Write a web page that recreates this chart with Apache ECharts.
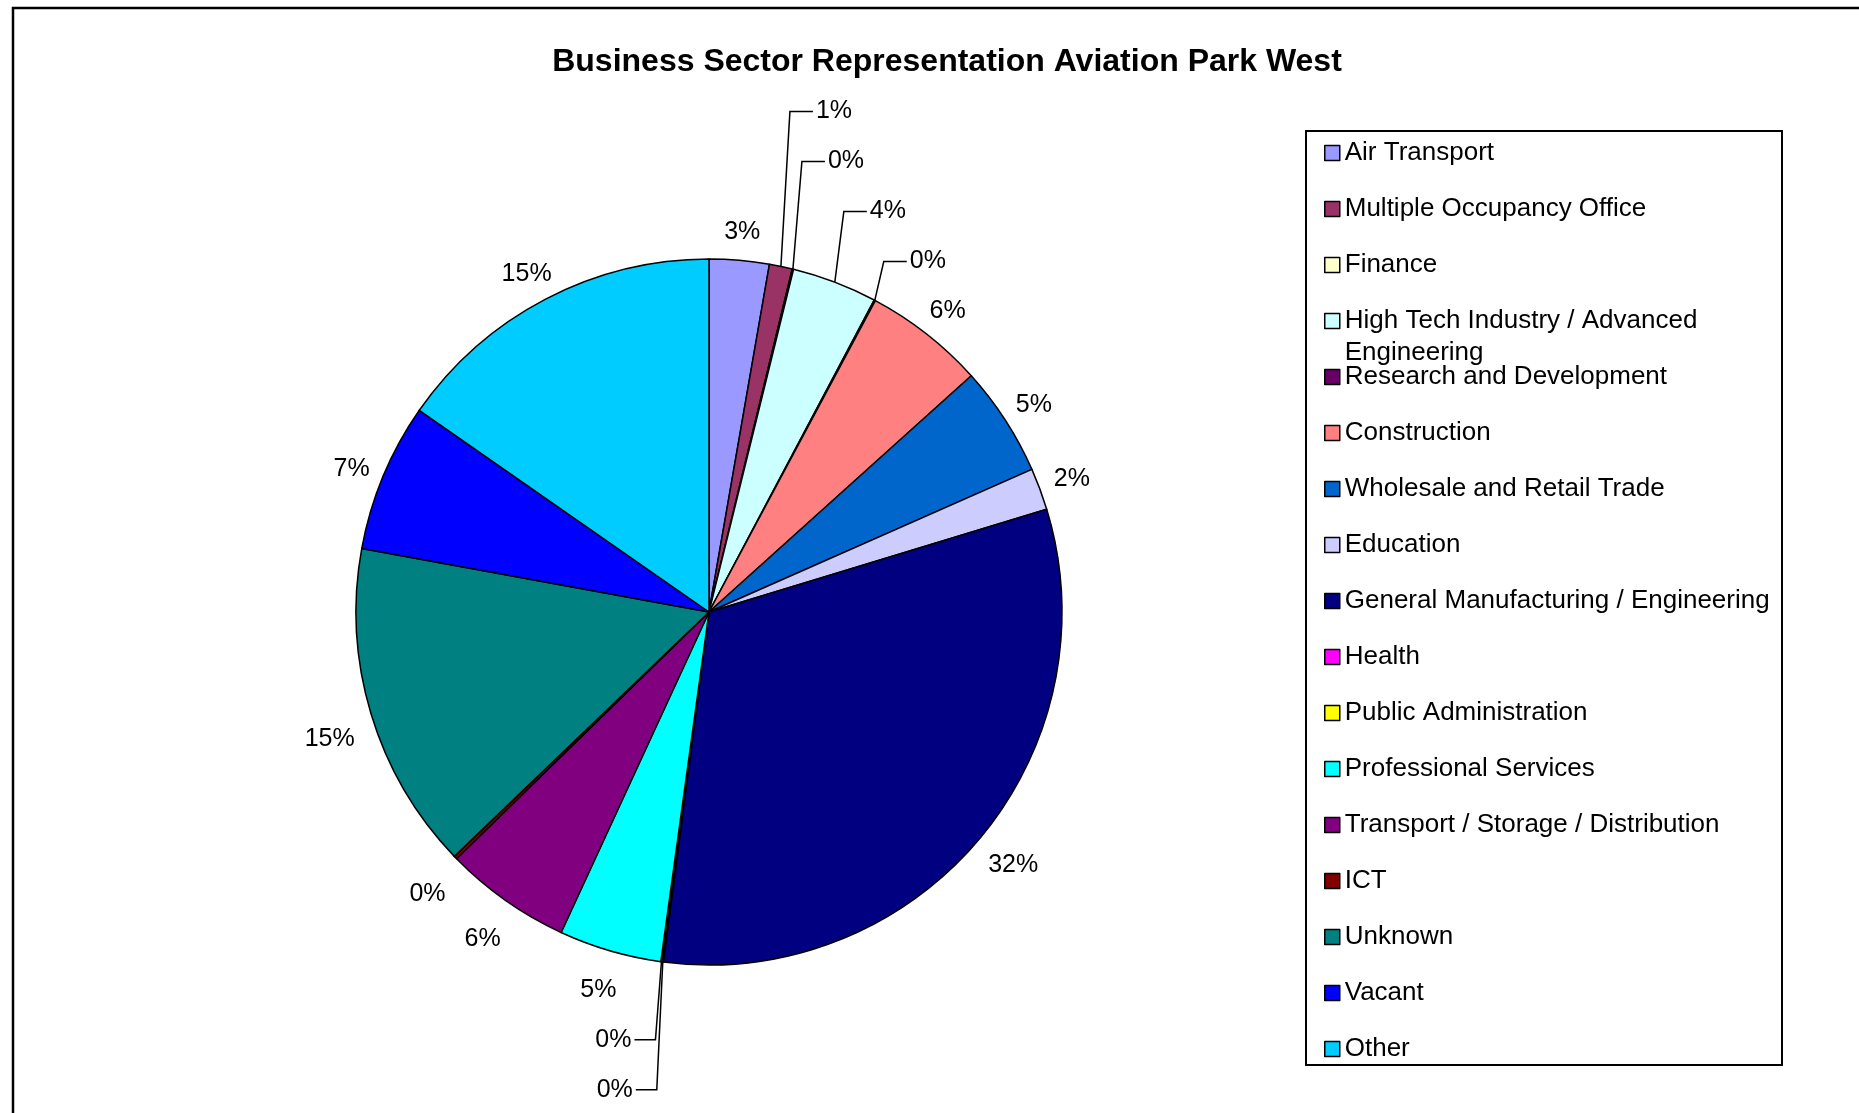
<!DOCTYPE html>
<html>
<head>
<meta charset="utf-8">
<title>Business Sector Representation Aviation Park West</title>
<script src="https://cdn.jsdelivr.net/npm/echarts@6/dist/echarts.min.js"></script>
<style>
  html, body { margin: 0; padding: 0; background: #fff; }
  #chart { width: 1859px; height: 1113px; }
</style>
</head>
<body>
<div id="chart"></div>
<script>
// Sectors in clockwise order, starting at twelve o'clock
const sectors = [
  'Air Transport',
  'Multiple Occupancy Office',
  'Finance',
  'High Tech Industry / Advanced Engineering',
  'Research and Development',
  'Construction',
  'Wholesale and Retail Trade',
  'Education',
  'General Manufacturing / Engineering',
  'Health',
  'Public Administration',
  'Professional Services',
  'Transport / Storage / Distribution',
  'ICT',
  'Unknown',
  'Vacant',
  'Other'
];

// Share of units per sector (%)
const shares = [2.74, 1.05, 0.06, 3.9, 0.06, 5.52, 5.05, 1.92, 31.76, 0.06, 0.06, 4.7, 5.8, 0.15, 15.05, 6.8, 15.32];

const sectorColors = [
  '#9999FF', '#993366', '#FFFFCC', '#CCFFFF', '#660066', '#FF8080',
  '#0066CC', '#CCCCFF', '#000080', '#FF00FF', '#FFFF00', '#00FFFF',
  '#800080', '#800000', '#008080', '#0000FF', '#00CCFF'
];

// Labels of thin slices that are pulled aside on a leader line
const leaderLabelSectors = [
  'Multiple Occupancy Office', 'Finance', 'High Tech Industry / Advanced Engineering',
  'Research and Development', 'Health', 'Public Administration'
];

const FONT = "'Liberation Sans', Arial, sans-serif";
const CX = 709, CY = 612, R = 353;
const LABEL_GAP = 16, LOWER_EXTRA_GAP = 7, STACK_STEP = 50;

const total = shares.reduce((s, v) => s + v, 0);
const midAngles = [];
let acc = 0;
for (const v of shares) {
  midAngles.push((acc + v / 2) / total * 2 * Math.PI);
  acc += v;
}
const isLeader = sectors.map(n => leaderLabelSectors.includes(n));

// centre of an ordinary label: just outside the rim along the slice bisector,
// dropped a little on the lower left where the labels sit lower
function plainLabelCenter(a, w, h) {
  const ux = Math.sin(a), uy = -Math.cos(a);
  const d = R + LABEL_GAP + LOWER_EXTRA_GAP * Math.max(0, uy);
  const drop = 18 * Math.max(0, -ux) * Math.min(1, Math.max(0, (uy + 0.6) / 0.9))
             + 8 * Math.max(0, uy) * Math.max(0, ux);
  return [CX + d * ux + (w / 2) * ux, CY + d * uy + (h / 2) * uy + drop];
}

function labelLayout(params) {
  const i = params.dataIndex;
  const w = params.labelRect.width, h = params.labelRect.height;
  const a = midAngles[i];
  const ux = Math.sin(a), uy = -Math.cos(a);
  if (!isLeader[i]) {
    const c = plainLabelCenter(a, w, h);
    return { x: c[0], y: c[1], align: 'center', verticalAlign: 'middle' };
  }
  // stack away from the next ordinary label
  let j = i;
  while (j < sectors.length && isLeader[j]) j++;
  const steps = j - i;
  const anchorY = plainLabelCenter(midAngles[j], w, h)[1];
  const y = anchorY + (anchorY < CY ? -1 : 1) * STACK_STEP * steps;
  const ax = CX + R * ux, ay = CY + R * uy;
  const side = ux >= 0 ? 1 : -1;
  const edge = ax + side * (side > 0 ? 35 : 30);
  return {
    x: edge,
    y: y,
    align: side > 0 ? 'left' : 'right',
    verticalAlign: 'middle',
    labelLinePoints: [[ax, ay], [edge - side * (side > 0 ? 26 : 24), y], [edge - side * 3, y]]
  };
}

const legendCommon = {
  orient: 'vertical',
  left: 1324,
  padding: 0,
  itemGap: 28,
  itemWidth: 15,
  itemHeight: 15,
  icon: 'rect',
  selectedMode: false,
  itemStyle: { borderColor: '#000', borderWidth: 1.5 },
  textStyle: {
    fontSize: 26, lineHeight: 28, color: '#000', fontFamily: FONT,
    width: 440, overflow: 'break'
  }
};

const chart = echarts.init(document.getElementById('chart'));
chart.setOption({
  animation: false,
  backgroundColor: '#fff',
  title: {
    text: 'Business Sector Representation Aviation Park West',
    left: 947,
    textAlign: 'center',
    top: 46,
    padding: 0,
    textStyle: { fontSize: 32, fontWeight: 'bold', color: '#000', fontFamily: FONT }
  },
  legend: [
    Object.assign({}, legendCommon, { top: 139, data: sectors.slice(0, 3) }),
    // the wrapped entry: an empty first line keeps the icon level with its first text line
    Object.assign({}, legendCommon, {
      top: 273,
      data: sectors.slice(3, 4),
      formatter: name => '\n' + name,
      textStyle: Object.assign({}, legendCommon.textStyle, { lineHeight: 32 })
    }),
    Object.assign({}, legendCommon, { top: 363, data: sectors.slice(4) })
  ],
  graphic: [
    {
      type: 'rect', silent: true, z: -10,
      shape: { x: 13, y: 8, width: 1900, height: 1200 },
      style: { fill: 'none', stroke: '#000', lineWidth: 2.5 }
    },
    {
      type: 'rect', silent: true,
      shape: { x: 1306, y: 131, width: 476, height: 934 },
      style: { fill: 'none', stroke: '#000', lineWidth: 2 }
    }
  ],
  series: [{
    type: 'pie',
    center: [CX, CY],
    radius: R,
    startAngle: 90,
    clockwise: true,
    avoidLabelOverlap: false,
    emphasis: { disabled: true },
    itemStyle: { borderColor: '#000', borderWidth: 1.5 },
    label: {
      show: true,
      position: 'outside',
      formatter: p => Math.round(p.value / total * 100) + '%',
      fontSize: 25,
      color: '#000',
      fontFamily: FONT
    },
    labelLine: {
      show: false,
      length: 10,
      length2: 10,
      lineStyle: { color: '#000', width: 1.5 }
    },
    labelLayout: labelLayout,
    data: sectors.map((name, i) => ({
      name,
      value: shares[i],
      itemStyle: { color: sectorColors[i] },
      labelLine: { show: isLeader[i] }
    }))
  }]
});
</script>
</body>
</html>
